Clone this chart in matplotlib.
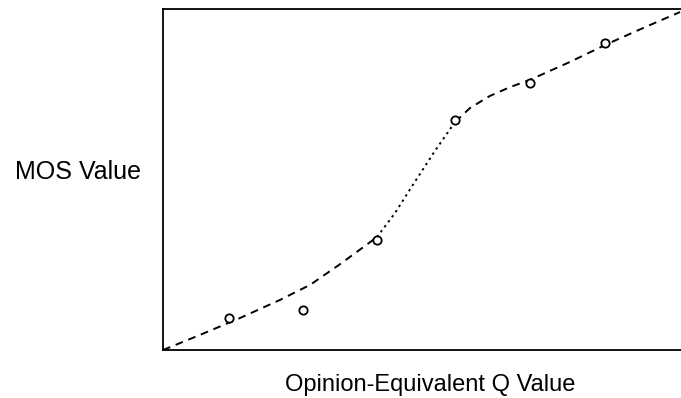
import matplotlib
matplotlib.use("Agg")
import matplotlib.pyplot as plt

# --- DATA (arbitrary 0..100 units) ---
q_points = [12.7, 27.0, 41.3, 56.4, 70.8, 85.3]
mos_points = [9.4, 11.7, 32.3, 67.4, 78.3, 90.0]

# fitted curve, split into lower dashed / middle dotted / upper dashed parts
curve_low_x = [0.0, 7.1, 14.9, 22.6, 28.4, 34.2, 41.3]
curve_low_y = [0.0, 4.4, 9.4, 14.7, 19.1, 25.2, 33.1]
curve_mid_x = [41.3, 44.8, 48.6, 52.5, 56.4]
curve_mid_y = [33.1, 40.2, 49.3, 58.4, 66.9]
curve_high_x = [56.4, 59.3, 63.1, 67.0, 70.8, 78.6, 85.7, 93.1, 99.8]
curve_high_y = [66.9, 71.0, 74.5, 77.1, 79.2, 84.5, 89.7, 94.7, 99.1]

plt.rcParams["font.family"] = ["Liberation Sans", "DejaVu Sans"]

fig = plt.figure(figsize=(6.81, 3.98), dpi=100)
ax = fig.add_axes([0.2394, 0.1206, 0.7606, 0.8568])

ax.plot(curve_low_x, curve_low_y, color="black", linestyle=(0, (4, 3)), linewidth=1.4)
ax.plot(curve_mid_x, curve_mid_y, color="black", linestyle=(0, (1.2, 2)), linewidth=1.4)
ax.plot(curve_high_x, curve_high_y, color="black", linestyle=(0, (4, 3)), linewidth=1.4)
ax.plot(q_points, mos_points, linestyle="none", marker="o", markersize=6,
        markerfacecolor="white", markeredgecolor="black", markeredgewidth=1.3)

ax.set_xlim(0, 100)
ax.set_ylim(0, 100)
ax.set_xticks([])
ax.set_yticks([])
for side in ["left", "bottom", "top"]:
    ax.spines[side].set_linewidth(1.3)
ax.spines["right"].set_visible(False)

fig.text(0.115, 0.568, "MOS Value", fontsize=18, ha="center", va="center")
fig.text(0.632, 0.032, "Opinion-Equivalent Q Value", fontsize=17, ha="center", va="center")

fig.savefig("out.png", dpi=100)
